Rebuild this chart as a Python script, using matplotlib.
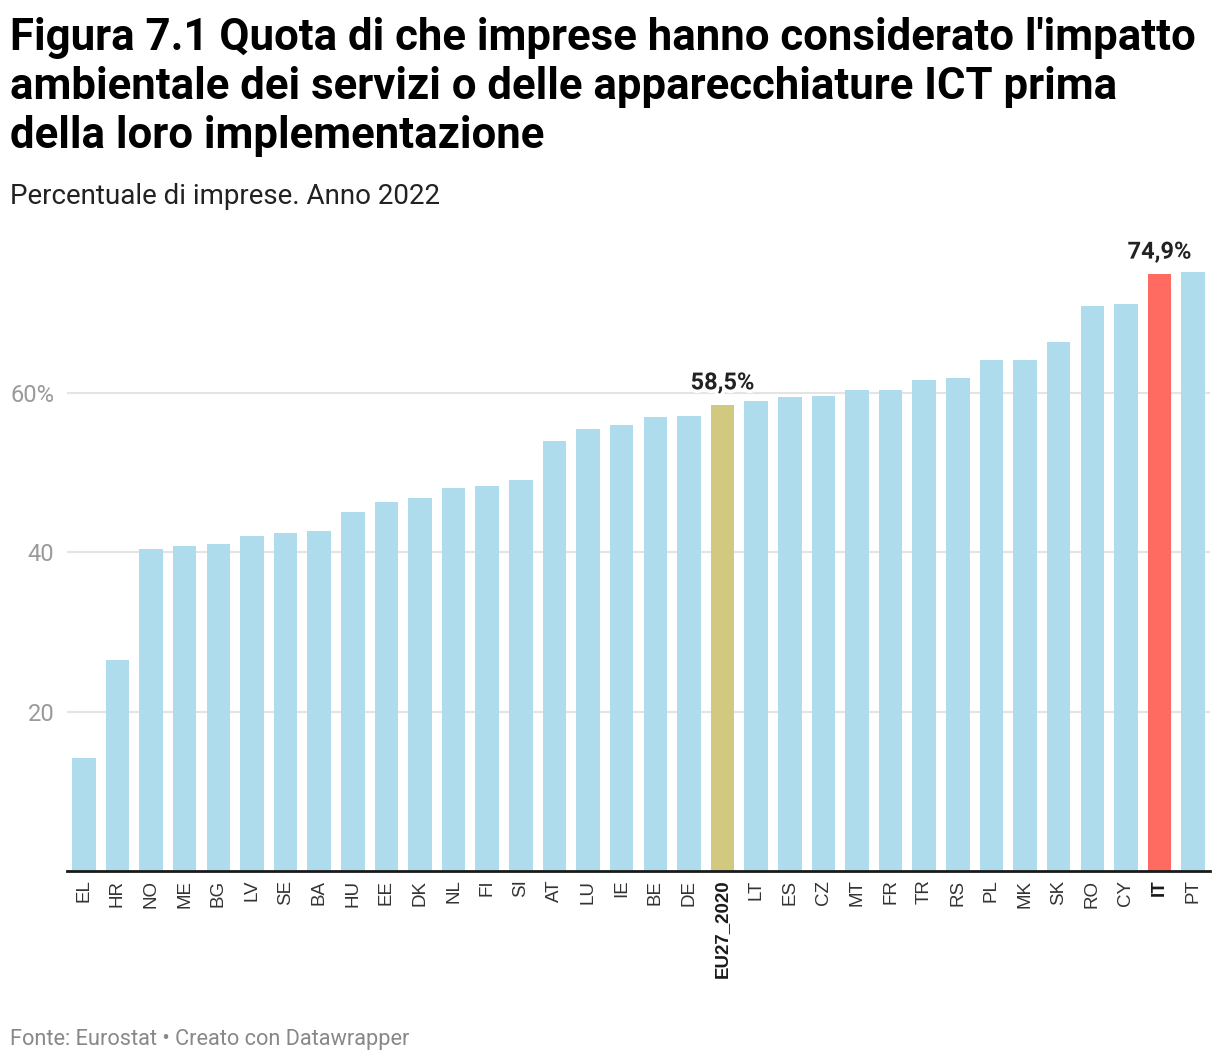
import matplotlib.pyplot as plt
import matplotlib.patheffects as pe

# Data (Eurostat, 2022) - share of enterprises, %
countries = ['EL', 'HR', 'NO', 'ME', 'BG', 'LV', 'SE', 'BA', 'HU', 'EE', 'DK', 'NL',
             'FI', 'SI', 'AT', 'LU', 'IE', 'BE', 'DE', 'EU27_2020', 'LT', 'ES', 'CZ',
             'MT', 'FR', 'TR', 'RS', 'PL', 'MK', 'SK', 'RO', 'CY', 'IT', 'PT']
values = [14.2, 26.5, 40.4, 40.8, 41.0, 42.0, 42.4, 42.6, 45.0, 46.3, 46.8, 48.0,
          48.3, 49.0, 54.0, 55.4, 55.9, 56.9, 57.1, 58.5, 58.9, 59.4, 59.6,
          60.3, 60.4, 61.6, 61.8, 64.1, 64.1, 66.4, 70.9, 71.1, 74.9, 75.1]
highlight = {'EU27_2020': '#d2c981', 'IT': '#ff6b61'}
labelled = ['EU27_2020', 'IT']
ticks = [20, 40, 60]
tick_labels = ['20', '40', '60%']

base_color = '#afdcec'
colors = [highlight.get(c, base_color) for c in countries]

W, H = 1220, 1064
fig = plt.figure(figsize=(W / 100, H / 100), dpi=100)
ax = fig.add_axes([67 / W, (H - 871.2) / H, (1210 - 67) / W, 606.1 / H])

x = range(len(countries))
ax.bar(x, values, width=0.7, color=colors, zorder=2)
ax.set_xlim(-0.5, len(countries) - 0.5)
ax.set_ylim(0, 76)

# grid and axes
ax.set_yticks(ticks)
ax.set_yticklabels(tick_labels, fontsize=17, color='#9a9a9a', family='Roboto')
ax.yaxis.grid(True, color='#e4e4e4', linewidth=1.5, zorder=0)
ax.tick_params(axis='y', length=0, pad=9)
for side in ['top', 'right', 'left']:
    ax.spines[side].set_visible(False)
ax.spines['bottom'].set_color('#1a1a1a')
ax.spines['bottom'].set_linewidth(2)
ax.spines['bottom'].set_zorder(3)

ax.set_xticks(list(x))
ax.set_xticklabels(countries, rotation=90, fontsize=13.5, color='#333333',
                   family='Liberation Sans')
ax.tick_params(axis='x', length=0, pad=6)
for lbl in ax.get_xticklabels():
    if lbl.get_text() in labelled:
        lbl.set_fontweight('bold')
        lbl.set_color('#1a1a1a')

# value labels
for i, (c, v) in enumerate(zip(countries, values)):
    if c in labelled:
        ax.annotate(f'{v:.1f}%'.replace('.', ','), (i, v), xytext=(0, 11),
                    textcoords='offset points', ha='center', va='baseline',
                    fontsize=17, fontweight='bold', color='#222222', family='Roboto',
                    zorder=4, annotation_clip=False,
                    path_effects=[pe.withStroke(linewidth=5, foreground='white')])

# titles
title_lines = ["Figura 7.1 Quota di che imprese hanno considerato l'impatto",
               "ambientale dei servizi o delle apparecchiature ICT prima",
               "della loro implementazione"]
for k, line in enumerate(title_lines):
    fig.text(10 / W, 1 - (50 + 49 * k) / H, line, fontsize=31.5, fontweight='bold',
             family='Roboto', color='#000000', va='baseline', ha='left')
fig.text(10 / W, 1 - 204 / H, 'Percentuale di imprese. Anno 2022', fontsize=20,
         family='Roboto', color='#222222', va='baseline', ha='left')
fig.text(10 / W, 1 - 1045 / H, 'Fonte: Eurostat • Creato con Datawrapper', fontsize=15.7,
         family='Roboto', color='#888888', va='baseline', ha='left')

plt.savefig('out.png', dpi=100, facecolor='white')
